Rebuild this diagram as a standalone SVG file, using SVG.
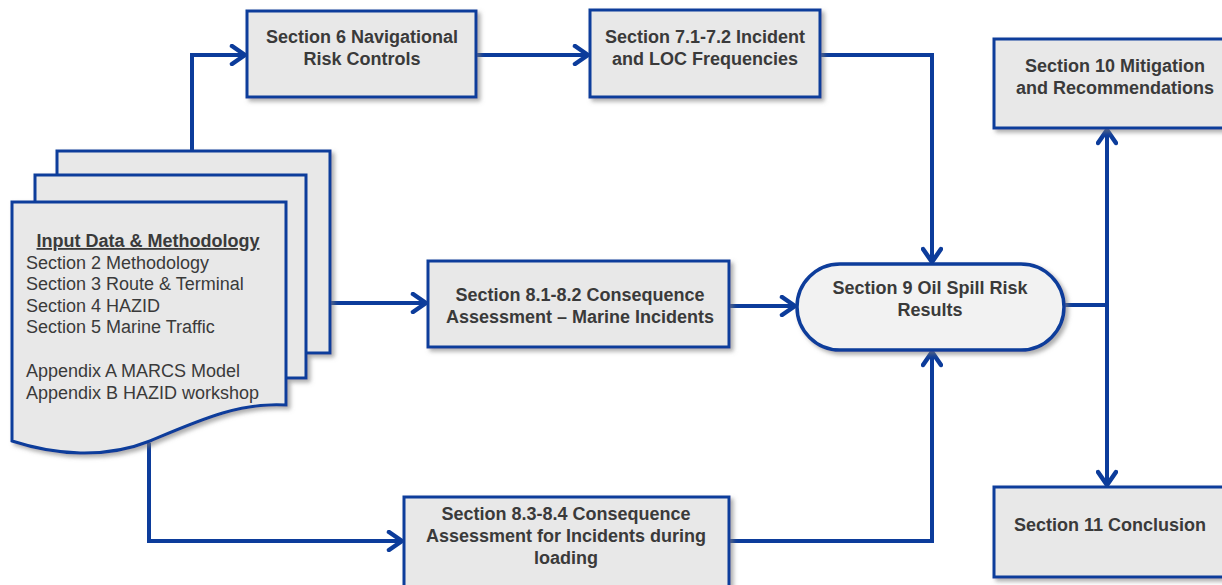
<svg xmlns="http://www.w3.org/2000/svg" width="1222" height="585" viewBox="0 0 1222 585">
<style>
.box{fill:#e8e8e8;stroke:#0c3c9b;stroke-width:3}
.pill{fill:#f2f2f2;stroke:#0c3c9b;stroke-width:3.5}
.doc{fill:#e8e8e8;stroke:#0c3c9b;stroke-width:3}
.t{font-family:"Liberation Sans",Arial,sans-serif;font-size:18px;font-weight:bold;fill:#3a3a3a;text-anchor:middle}
.n{font-family:"Liberation Sans",Arial,sans-serif;font-size:18px;fill:#3a3a3a}
.c{fill:none;stroke:#0c3c9b;stroke-width:4;stroke-linejoin:miter}
</style>
<defs>
<filter id="sh" x="-10%" y="-10%" width="130%" height="130%">
<feDropShadow dx="3" dy="3" stdDeviation="2" flood-color="#777" flood-opacity="0.6"/>
</filter>
<marker id="ar" viewBox="0 0 18 22" refX="16" refY="11" markerWidth="18" markerHeight="22" markerUnits="userSpaceOnUse" orient="auto">
<path d="M3,2 L16,11 L3,20" fill="none" stroke="#0c3c9b" stroke-width="4.5" stroke-linecap="round" stroke-linejoin="miter"/>
</marker>
</defs>

<g id="connectors">
<path class="c" d="M192,150 V55 H245" marker-end="url(#ar)"/>
<path class="c" d="M476,55 H588" marker-end="url(#ar)"/>
<path class="c" d="M820,55 H932 V262" marker-end="url(#ar)"/>
<path class="c" d="M330,303 H426" marker-end="url(#ar)"/>
<path class="c" d="M729,306 H795" marker-end="url(#ar)"/>
<path class="c" d="M149,443 V541 H402" marker-end="url(#ar)"/>
<path class="c" d="M729,541 H932 V352" marker-end="url(#ar)"/>
<path class="c" d="M1064,305 H1107"/>
<path class="c" d="M1107,305 V130" marker-end="url(#ar)"/>
<path class="c" d="M1107,305 V485" marker-end="url(#ar)"/>
</g>

<g id="input-data" filter="url(#sh)">
<rect class="doc" x="57" y="151" width="273" height="202"/>
<rect class="doc" x="35" y="175" width="271" height="203"/>
<path class="doc" d="M12,202 H286 V405 C240,402 200,420 150,441 C105,459 55,455 12,441 Z"/>
</g>
<g id="input-text">
<text class="t" x="148" y="247" text-decoration="underline">Input Data &amp; Methodology</text>
<text class="n" x="26" y="269">Section 2 Methodology</text>
<text class="n" x="26" y="290">Section 3 Route &amp; Terminal</text>
<text class="n" x="26" y="312">Section 4 HAZID</text>
<text class="n" x="26" y="333">Section 5 Marine Traffic</text>
<text class="n" x="26" y="377">Appendix  A MARCS Model</text>
<text class="n" x="26" y="399">Appendix  B HAZID  workshop</text>
</g>

<g id="s6">
<rect class="box" x="247" y="11" width="229" height="86" filter="url(#sh)"/>
<text class="t" x="362" y="43">Section 6 Navigational</text>
<text class="t" x="362" y="65">Risk Controls</text>
</g>

<g id="s7">
<rect class="box" x="590" y="10" width="230" height="87" filter="url(#sh)"/>
<text class="t" x="705" y="43">Section 7.1-7.2 Incident</text>
<text class="t" x="705" y="65">and LOC Frequencies</text>
</g>

<g id="s81">
<rect class="box" x="428" y="261" width="301" height="86" filter="url(#sh)"/>
<text class="t" x="580" y="301">Section 8.1-8.2 Consequence</text>
<text class="t" x="580" y="323">Assessment – Marine Incidents</text>
</g>

<g id="s83">
<rect class="box" x="404" y="497" width="325" height="92" filter="url(#sh)"/>
<text class="t" x="566" y="520">Section 8.3-8.4 Consequence</text>
<text class="t" x="566" y="542">Assessment for Incidents during</text>
<text class="t" x="566" y="564">loading</text>
</g>

<g id="s9">
<rect class="pill" x="797" y="264" width="267" height="86" rx="43" ry="43" filter="url(#sh)"/>
<text class="t" x="930" y="294">Section 9 Oil Spill Risk</text>
<text class="t" x="930" y="316">Results</text>
</g>

<g id="s10">
<rect class="box" x="994" y="39" width="242" height="89" filter="url(#sh)"/>
<text class="t" x="1115" y="72">Section 10 Mitigation</text>
<text class="t" x="1115" y="94">and Recommendations</text>
</g>

<g id="s11">
<rect class="box" x="994" y="487" width="242" height="90" filter="url(#sh)"/>
<text class="t" x="1110" y="531">Section 11 Conclusion</text>
</g>
</svg>
